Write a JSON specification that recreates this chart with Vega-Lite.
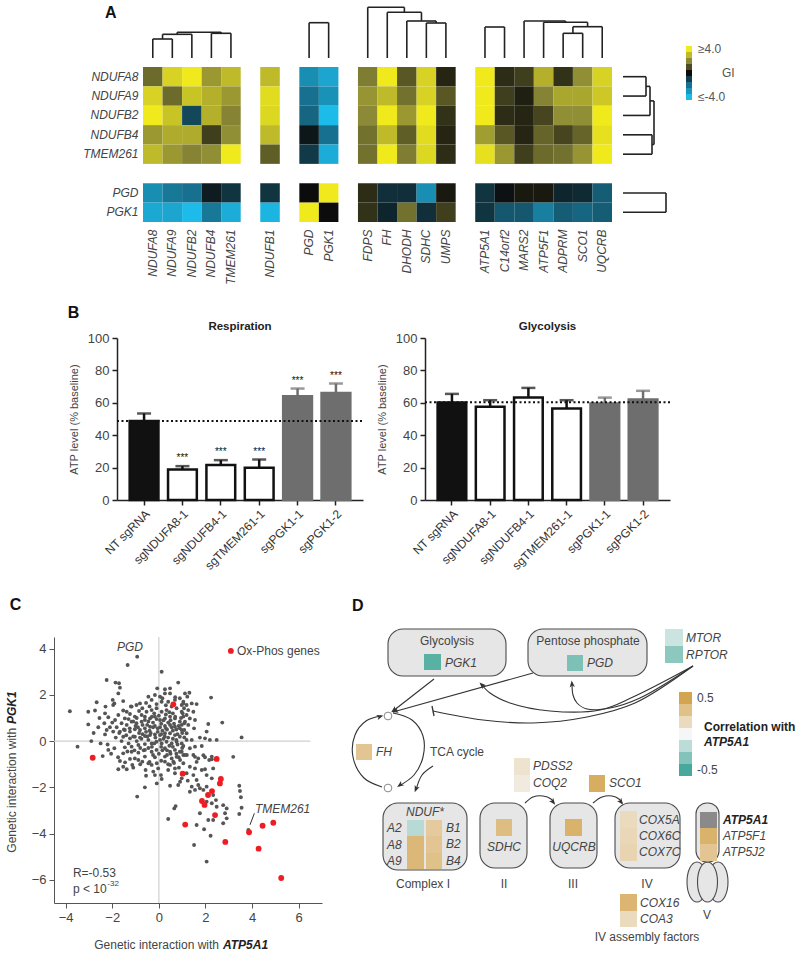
{
"$schema": "https://vega.github.io/schema/vega-lite/v6.json",
"width": 800, "height": 953, "autosize": "none", "padding": 0, "background": "#ffffff",
"config": {
  "view": {"stroke": null},
  "font": "Liberation Sans",
  "axis": {"grid": false, "labelFont": "Liberation Sans", "titleFont": "Liberation Sans", "labelColor": "#444444", "titleColor": "#444444", "titleFontWeight": "normal"},
  "text": {"font": "Liberation Sans", "fontSize": 12, "color": "#444444"}
},
"datasets": {
  "letters": [{"p": "B"}],
  "a_text": [{"label": "A", "x": -1.94, "h": 45}],
  "gi_wide": [
    {"r":"NDUFA8","NDUFA8":1.5,"NDUFA9":3.5,"NDUFB2":4,"NDUFB4":2.3,"TMEM261":3,"NDUFB1":3,"PGD":-2.8,"PGK1":-3.4,"FDPS":1.8,"FH":4,"DHODH":1.2,"SDHC":3.5,"UMPS":0.4,"ATP5A1":4,"C14orf2":0.5,"MARS2":0.8,"ATP5F1":2.8,"ADPRM":0.6,"SCO1":2.1,"UQCRB":3.5},
    {"r":"NDUFA9","NDUFA8":3.5,"NDUFA9":1.5,"NDUFB2":3.2,"NDUFB4":2.8,"TMEM261":2.3,"NDUFB1":3.7,"PGD":-2.0,"PGK1":-2.9,"FDPS":2.2,"FH":3.0,"DHODH":1.6,"SDHC":3.5,"UMPS":1.2,"ATP5A1":4,"C14orf2":0.8,"MARS2":0.3,"ATP5F1":1.9,"ADPRM":2.6,"SCO1":2.6,"UQCRB":3.3},
    {"r":"NDUFB2","NDUFA8":4,"NDUFA9":3.2,"NDUFB2":-1.2,"NDUFB4":2.8,"TMEM261":1.9,"NDUFB1":3.6,"PGD":-1.8,"PGK1":-4,"FDPS":2.0,"FH":4,"DHODH":2.3,"SDHC":4,"UMPS":0.6,"ATP5A1":4,"C14orf2":0.5,"MARS2":0.4,"ATP5F1":0.9,"ADPRM":2.1,"SCO1":2.1,"UQCRB":4},
    {"r":"NDUFB4","NDUFA8":2.3,"NDUFA9":2.7,"NDUFB2":2.7,"NDUFB4":0.8,"TMEM261":2.1,"NDUFB1":3.0,"PGD":-0.2,"PGK1":-2.0,"FDPS":1.6,"FH":3.0,"DHODH":1.3,"SDHC":3.7,"UMPS":0.4,"ATP5A1":2.4,"C14orf2":1.2,"MARS2":0.4,"ATP5F1":1.4,"ADPRM":0.9,"SCO1":1.4,"UQCRB":3.8},
    {"r":"TMEM261","NDUFA8":3.0,"NDUFA9":2.3,"NDUFB2":1.9,"NDUFB4":2.1,"TMEM261":4,"NDUFB1":1.3,"PGD":-0.9,"PGK1":-3.6,"FDPS":1.6,"FH":4,"DHODH":1.8,"SDHC":3.6,"UMPS":0.5,"ATP5A1":3.8,"C14orf2":2.3,"MARS2":0.8,"ATP5F1":1.5,"ADPRM":1.6,"SCO1":2.2,"UQCRB":4},
    {"r":"PGD","NDUFA8":-2.8,"NDUFA9":-2.2,"NDUFB2":-2.0,"NDUFB4":-0.3,"TMEM261":-0.8,"NDUFB1":-0.8,"PGD":0,"PGK1":4,"FDPS":0.5,"FH":-0.7,"DHODH":-0.7,"SDHC":-2.8,"UMPS":0.2,"ATP5A1":-0.8,"C14orf2":-0.1,"MARS2":0.2,"ATP5F1":0.2,"ADPRM":-0.5,"SCO1":-0.6,"UQCRB":-1.6},
    {"r":"PGK1","NDUFA8":-3.5,"NDUFA9":-3.4,"NDUFB2":-4,"NDUFB4":-2.2,"TMEM261":-3.6,"NDUFB1":-3.8,"PGD":4,"PGK1":0,"FDPS":0.6,"FH":-0.5,"DHODH":1.6,"SDHC":-0.7,"UMPS":0.8,"ATP5A1":-0.8,"C14orf2":-1.5,"MARS2":-1.5,"ATP5F1":-2.4,"ADPRM":-1.6,"SCO1":-1.8,"UQCRB":-1.6}
  ],
  "dendro_top": [
    {"x":0.5,"x2":0.5,"h":0,"h2":19},{"x":1.5,"x2":1.5,"h":0,"h2":19},{"x":0.5,"x2":1.5,"h":19,"h2":19},
    {"x":1.0,"x2":1.0,"h":19,"h2":23.7},{"x":2.5,"x2":2.5,"h":0,"h2":23.7},{"x":1.0,"x2":2.5,"h":23.7,"h2":23.7},
    {"x":3.5,"x2":3.5,"h":0,"h2":24.7},{"x":4.5,"x2":4.5,"h":0,"h2":24.7},{"x":3.5,"x2":4.5,"h":24.7,"h2":24.7},
    {"x":1.75,"x2":1.75,"h":23.7,"h2":25.7},{"x":4.0,"x2":4.0,"h":24.7,"h2":25.7},{"x":1.75,"x2":4.0,"h":25.7,"h2":25.7},
    {"x":8.5,"x2":8.5,"h":0,"h2":35.3},{"x":9.5,"x2":9.5,"h":0,"h2":35.3},{"x":8.5,"x2":9.5,"h":35.3,"h2":35.3},
    {"x":14.5,"x2":14.5,"h":0,"h2":35},{"x":15.5,"x2":15.5,"h":0,"h2":35},{"x":14.5,"x2":15.5,"h":35,"h2":35},
    {"x":13.5,"x2":13.5,"h":0,"h2":37},{"x":15.0,"x2":15.0,"h":35,"h2":37},{"x":13.5,"x2":15.0,"h":37,"h2":37},
    {"x":12.5,"x2":12.5,"h":0,"h2":45.7},{"x":14.25,"x2":14.25,"h":37,"h2":45.7},{"x":12.5,"x2":14.25,"h":45.7,"h2":45.7},
    {"x":11.5,"x2":11.5,"h":0,"h2":50.7},{"x":13.375,"x2":13.375,"h":45.7,"h2":50.7},{"x":11.5,"x2":13.375,"h":50.7,"h2":50.7},
    {"x":17.5,"x2":17.5,"h":0,"h2":31},{"x":18.5,"x2":18.5,"h":0,"h2":31},{"x":17.5,"x2":18.5,"h":31,"h2":31},
    {"x":21.5,"x2":21.5,"h":0,"h2":24.7},{"x":22.5,"x2":22.5,"h":0,"h2":24.7},{"x":21.5,"x2":22.5,"h":24.7,"h2":24.7},
    {"x":23.5,"x2":23.5,"h":0,"h2":31.3},{"x":22.0,"x2":22.0,"h":24.7,"h2":31.3},{"x":22.0,"x2":23.5,"h":31.3,"h2":31.3},
    {"x":20.5,"x2":20.5,"h":0,"h2":35.7},{"x":22.75,"x2":22.75,"h":31.3,"h2":35.7},{"x":20.5,"x2":22.75,"h":35.7,"h2":35.7},
    {"x":19.5,"x2":19.5,"h":0,"h2":37},{"x":21.625,"x2":21.625,"h":35.7,"h2":37},{"x":19.5,"x2":21.625,"h":37,"h2":37}
  ],
  "dendro_right": [
    {"h":0,"h2":23,"r":0.5,"r2":0.5},{"h":0,"h2":23,"r":1.5,"r2":1.5},{"h":23,"h2":23,"r":0.5,"r2":1.5},
    {"h":23,"h2":27,"r":1.0,"r2":1.0},{"h":0,"h2":27,"r":2.5,"r2":2.5},{"h":27,"h2":27,"r":1.0,"r2":2.5},
    {"h":0,"h2":29,"r":3.5,"r2":3.5},{"h":0,"h2":29,"r":4.5,"r2":4.5},{"h":29,"h2":29,"r":3.5,"r2":4.5},
    {"h":27,"h2":31,"r":1.75,"r2":1.75},{"h":29,"h2":31,"r":4.0,"r2":4.0},{"h":31,"h2":31,"r":1.75,"r2":4.0},
    {"h":0,"h2":43,"r":6.5,"r2":6.5},{"h":0,"h2":43,"r":7.5,"r2":7.5},{"h":43,"h2":43,"r":6.5,"r2":7.5}
  ],
  "gi_legend": [{"gi":4},{"gi":3},{"gi":2},{"gi":1},{"gi":0},{"gi":-1},{"gi":-2},{"gi":-3},{"gi":-4}],
  "gi_legend_labels": [{"gi":4,"label":"≥4.0"},{"gi":0,"label":"GI"},{"gi":-4,"label":"≤-4.0"}],
  "resp": [
    {"sample":"NT sgRNA","kind":"ctrl","mean":48.8,"upper":53.4,"sig":""},
    {"sample":"sgNDUFA8-1","kind":"kd","mean":18.9,"upper":20.9,"sig":"***"},
    {"sample":"sgNDUFB4-1","kind":"kd","mean":21.6,"upper":24.6,"sig":"***"},
    {"sample":"sgTMEM261-1","kind":"kd","mean":19.9,"upper":25,"sig":"***"},
    {"sample":"sgPGK1-1","kind":"pgk","mean":64.1,"upper":68.8,"sig":"***"},
    {"sample":"sgPGK1-2","kind":"pgk","mean":66.1,"upper":71.9,"sig":"***"}
  ],
  "glyc": [
    {"sample":"NT sgRNA","kind":"ctrl","mean":60.2,"upper":65.5},
    {"sample":"sgNDUFA8-1","kind":"kd","mean":57.5,"upper":61.6},
    {"sample":"sgNDUFB4-1","kind":"kd","mean":63.2,"upper":69.2},
    {"sample":"sgTMEM261-1","kind":"kd","mean":56.5,"upper":61.6},
    {"sample":"sgPGK1-1","kind":"pgk","mean":59.5,"upper":63.2},
    {"sample":"sgPGK1-2","kind":"pgk","mean":62,"upper":67.4}
  ],
  "bar_titles": [{"panel":"Respiration","level":48.8},{"panel":"Glycolysis","level":60.4}],
  "c_zero": [{"x":0,"y":-7,"x2":0,"y2":4.5},{"x":-4.5,"y":0,"x2":6.5,"y2":0}],
  "c_leader": [{"x":3.91,"y":-3.62,"x2":4.1,"y2":-3.12}],
  "c_legdot": [{"x":3.09,"y":3.9}],
  "c_text": [
    {"label":"PGD","x":-1.24,"y":4.07,"s":"ic"},
    {"label":"TMEM261","x":4.12,"y":-2.94,"s":"il"},
    {"label":"Ox-Phos genes","x":3.35,"y":3.9,"s":"nl"},
    {"label":"R=-0.53","x":-3.69,"y":-5.7,"s":"nl"},
    {"label":"p < 10","x":-3.69,"y":-6.39,"s":"nl"},
    {"label":"-32","x":-2.21,"y":-6.18,"s":"sup"},
    {"label":"Genetic interaction with","x":2.58,"y":-8.82,"s":"nr"},
    {"label":"ATP5A1","x":2.75,"y":-8.82,"s":"bil"},
    {"label":"Genetic interaction with","x":-6.3,"y":0.57,"s":"vr"},
    {"label":"PGK1","x":-6.3,"y":0.74,"s":"vbil"},
    {"label":"C","x":-6.4,"y":5.88,"s":"letter"}
  ],
  "c_oxphos": [
    {"x":0.62,"y":1.59},{"x":-2.84,"y":-0.72},{"x":2.48,"y":-0.77},{"x":1.02,"y":-1.41},{"x":2.66,"y":-1.64},{"x":2.62,"y":-1.83},{"x":2.28,"y":-2.16},{"x":2.11,"y":-2.33},{"x":1.85,"y":-2.59},{"x":1.96,"y":-2.76},{"x":2.41,"y":-3.2},{"x":1.13,"y":-3.61},{"x":4.45,"y":-3.66},{"x":4.91,"y":-3.53},{"x":3.87,"y":-3.94},{"x":2.85,"y":-4.36},{"x":4.28,"y":-4.65},{"x":5.25,"y":-5.92}
  ],
  "c_other": [
    {"x":-0.93,"y":3.65},{"x":-1.34,"y":3.29},{"x":0.12,"y":3.0},{"x":-2.24,"y":2.64},{"x":-1.86,"y":2.53},{"x":-1.71,"y":2.5},{"x":0.83,"y":2.53},{"x":-1.67,"y":2.31},{"x":-0.07,"y":2.28},{"x":0.26,"y":2.24},{"x":0.48,"y":2.28},{"x":-1.74,"y":2.06},{"x":-2.67,"y":1.68},{"x":-1.98,"y":1.78},{"x":-1.91,"y":1.63},{"x":-1.53,"y":1.73},{"x":-1.96,"y":1.56},{"x":-3.82,"y":1.29},{"x":-2.74,"y":1.32},{"x":-2.29,"y":1.49},{"x":-2.31,"y":1.2},{"x":-1.53,"y":1.32},{"x":-1.38,"y":1.27},{"x":-1.17,"y":1.49},{"x":-0.96,"y":1.56},{"x":-0.81,"y":1.63},{"x":-0.71,"y":1.42},{"x":-0.45,"y":1.92},{"x":-0.31,"y":1.78},{"x":-0.17,"y":1.99},{"x":0.05,"y":1.92},{"x":0.26,"y":2.06},{"x":0.48,"y":2.06},{"x":0.12,"y":1.7},{"x":0.4,"y":1.7},{"x":0.69,"y":1.78},{"x":0.9,"y":1.85},{"x":1.05,"y":1.63},
    {"x":-3.03,"y":0.72},{"x":-2.34,"y":0.77},{"x":-2.17,"y":1.03},{"x":-1.88,"y":0.91},{"x":-1.74,"y":1.13},{"x":-1.46,"y":0.98},{"x":-1.24,"y":1.17},{"x":-1.03,"y":1.06},{"x":-0.74,"y":1.13},{"x":-0.53,"y":1.27},{"x":-0.31,"y":1.34},{"x":-0.1,"y":1.42},{"x":0.12,"y":1.27},{"x":0.33,"y":1.34},{"x":0.55,"y":1.49},{"x":0.76,"y":1.42},{"x":0.98,"y":1.27},{"x":1.05,"y":1.06},
    {"x":-2.31,"y":0.29},{"x":-2.1,"y":0.6},{"x":-1.81,"y":0.6},{"x":-1.6,"y":0.77},{"x":-1.38,"y":0.7},{"x":-1.17,"y":0.84},{"x":-0.96,"y":0.77},{"x":-0.74,"y":0.84},{"x":-0.6,"y":0.91},{"x":-0.38,"y":0.98},{"x":-0.17,"y":1.06},{"x":0.05,"y":0.91},{"x":0.26,"y":0.98},{"x":0.48,"y":1.06},{"x":0.69,"y":0.98},{"x":0.9,"y":0.84},{"x":1.09,"y":0.77},
    {"x":-2.24,"y":0.48},{"x":-1.96,"y":0.41},{"x":-1.67,"y":0.41},{"x":-1.46,"y":0.48},{"x":-1.24,"y":0.41},{"x":-1.03,"y":0.51},{"x":-0.81,"y":0.48},{"x":-0.6,"y":0.55},{"x":-0.38,"y":0.62},{"x":-0.17,"y":0.65},{"x":0.05,"y":0.6},{"x":0.26,"y":0.65},{"x":0.48,"y":0.7},{"x":0.69,"y":0.62},{"x":0.9,"y":0.55},{"x":1.09,"y":0.48},
    {"x":-1.53,"y":0.19},{"x":-1.24,"y":0.12},{"x":-1.03,"y":0.19},{"x":-0.81,"y":0.15},{"x":-0.6,"y":0.22},{"x":-0.38,"y":0.26},{"x":-0.17,"y":0.29},{"x":0.05,"y":0.26},{"x":0.26,"y":0.34},{"x":0.48,"y":0.34},{"x":0.69,"y":0.26},{"x":0.9,"y":0.19},{"x":1.09,"y":0.16},
    {"x":-3.49,"y":-0.24},{"x":-2.17,"y":-0.38},{"x":-1.91,"y":-0.31},{"x":-1.46,"y":-0.27},{"x":-1.17,"y":-0.24},{"x":-0.88,"y":-0.17},{"x":-0.6,"y":-0.13},{"x":-0.31,"y":-0.1},{"x":-0.1,"y":-0.03},{"x":0.12,"y":-0.1},{"x":0.33,"y":-0.03},{"x":0.55,"y":-0.1},{"x":0.76,"y":-0.03},{"x":0.98,"y":-0.1},
    {"x":-1.53,"y":-0.53},{"x":-1.17,"y":-0.46},{"x":-0.88,"y":-0.5},{"x":-0.6,"y":-0.38},{"x":-0.31,"y":-0.46},{"x":-0.1,"y":-0.38},{"x":0.26,"y":-0.31},{"x":0.48,"y":-0.46},{"x":0.69,"y":-0.38},{"x":0.9,"y":-0.46},{"x":1.05,"y":-0.6},
    {"x":-1.03,"y":-0.75},{"x":-0.6,"y":-0.67},{"x":-0.17,"y":-0.7},{"x":0.26,"y":-0.67},{"x":0.55,"y":-0.75},
    {"x":-0.5,"y":0.7},{"x":-0.25,"y":0.8},{"x":0.1,"y":0.75},{"x":0.35,"y":0.5},{"x":0.6,"y":0.45},{"x":-0.7,"y":0.3},{"x":-0.45,"y":0.05},{"x":-0.05,"y":0.4},{"x":0.2,"y":0.1},{"x":0.45,"y":-0.2},{"x":0.8,"y":0.3},{"x":-0.9,"y":0.6},{"x":-1.1,"y":0.2},{"x":-0.3,"y":-0.25},{"x":0.0,"y":-0.55},{"x":0.35,"y":-0.6},{"x":0.65,"y":0.75},{"x":0.95,"y":1.0},{"x":-0.2,"y":1.2},{"x":0.3,"y":1.15},{"x":-0.6,"y":1.05},{"x":-0.85,"y":1.3},{"x":0.6,"y":1.2},{"x":-0.4,"y":0.45},{"x":0.15,"y":0.45},{"x":0.5,"y":0.9},{"x":-0.1,"y":0.95},{"x":-0.65,"y":-0.4},{"x":-1.3,"y":-0.1},{"x":-1.5,"y":0.5},{"x":-1.3,"y":0.95},{"x":0.75,"y":0.05},{"x":1.0,"y":-0.3},{"x":0.85,"y":-0.7},{"x":0.1,"y":-0.85},{"x":-0.4,"y":-0.9},{"x":-0.8,"y":-1.0},{"x":0.4,"y":-1.0},{"x":0.65,"y":-0.95},{"x":1.2,"y":-0.6},{"x":-1.7,"y":0.35},{"x":-2.0,"y":0.8},{"x":-1.2,"y":1.5},{"x":-0.55,"y":1.65},{"x":0.15,"y":1.85},{"x":0.7,"y":1.9},
    {"x":-0.35,"y":0.35},{"x":-0.15,"y":0.15},{"x":0.05,"y":0.05},{"x":0.25,"y":0.2},{"x":0.4,"y":0.15},{"x":0.6,"y":0.1},{"x":-0.55,"y":0.4},{"x":-0.85,"y":0.35},{"x":-1.0,"y":0.65},{"x":-1.25,"y":0.55},{"x":-0.7,"y":0.7},{"x":-0.45,"y":0.85},{"x":-0.3,"y":1.05},{"x":0.0,"y":1.1},{"x":0.2,"y":0.9},{"x":0.4,"y":0.8},{"x":0.55,"y":0.6},{"x":0.75,"y":0.5},{"x":0.85,"y":0.65},{"x":1.0,"y":0.35},{"x":0.3,"y":0.55},{"x":0.1,"y":0.3},{"x":-0.05,"y":0.55},{"x":-0.25,"y":0.6},{"x":-0.5,"y":0.2},{"x":-0.75,"y":0.1},{"x":-0.95,"y":0.0},{"x":-0.2,"y":-0.1},{"x":0.1,"y":-0.25},{"x":0.35,"y":-0.4},{"x":0.6,"y":-0.25},{"x":0.8,"y":-0.15},{"x":-0.45,"y":-0.3},{"x":-0.8,"y":-0.3},{"x":-1.05,"y":-0.4},{"x":-0.25,"y":-0.6},{"x":0.15,"y":-0.4},{"x":0.5,"y":-0.55},{"x":0.75,"y":-0.55},{"x":-1.4,"y":0.25},{"x":-1.6,"y":0.0},{"x":-1.85,"y":0.15},{"x":-1.35,"y":-0.45},{"x":0.45,"y":1.25},{"x":0.7,"y":1.05},{"x":-0.1,"y":1.6},{"x":0.3,"y":1.55},{"x":-0.4,"y":1.5},{"x":-0.95,"y":1.0},{"x":-1.1,"y":0.85},{"x":-2.6,"y":0.6},{"x":-2.9,"y":0.0},{"x":-2.2,"y":-0.15},
    {"x":-3.03,"y":1.27},{"x":-2.55,"y":1.0},{"x":-2.8,"y":0.35},{"x":-2.5,"y":-0.1},{"x":-2.05,"y":-0.55},{"x":-1.75,"y":-0.7},
    {"x":-2.41,"y":-0.65},{"x":-1.74,"y":-1.22},{"x":-1.53,"y":-1.11},{"x":-1.38,"y":-1.22},{"x":-1.1,"y":-1.15},{"x":-1.14,"y":-1.03},{"x":-1.67,"y":-0.86},{"x":-1.45,"y":-0.92},{"x":-1.24,"y":-0.77},{"x":-0.88,"y":-0.82},{"x":-0.71,"y":-0.89},{"x":-0.45,"y":-0.96},{"x":-0.57,"y":-1.25},{"x":-0.55,"y":-1.5},{"x":-0.24,"y":-1.32},{"x":-0.17,"y":-1.47},{"x":-0.31,"y":-1.03},{"x":-0.09,"y":-0.96},{"x":-0.03,"y":-1.18},{"x":0.09,"y":-1.47},{"x":0.12,"y":-1.64},{"x":-0.09,"y":-1.83},{"x":-0.6,"y":-2.0},{"x":-0.93,"y":-2.4},{"x":0.48,"y":-1.93},{"x":0.66,"y":-2.91},{"x":0.72,"y":-2.81},{"x":0.4,"y":-3.37},{"x":0.26,"y":-0.89},{"x":0.48,"y":-1.03},{"x":0.62,"y":-0.89},{"x":0.4,"y":-1.25},{"x":0.69,"y":-1.18},{"x":0.86,"y":-1.15},{"x":0.98,"y":-1.61},{"x":0.91,"y":-1.76},{"x":0.83,"y":-1.9},{"x":0.69,"y":-1.39},{"x":1.05,"y":-0.96},{"x":0.91,"y":-0.82},{"x":0.76,"y":-0.68},
    {"x":1.12,"y":2.06},{"x":1.31,"y":2.09},{"x":1.22,"y":1.92},{"x":1.05,"y":1.7},{"x":0.98,"y":1.56},{"x":1.19,"y":1.56},{"x":1.41,"y":1.63},{"x":1.62,"y":1.6},{"x":1.08,"y":1.42},{"x":1.26,"y":1.34},{"x":1.48,"y":1.27},{"x":1.02,"y":1.2},{"x":1.19,"y":1.13},{"x":1.33,"y":0.98},{"x":1.55,"y":0.91},{"x":1.12,"y":0.84},{"x":0.98,"y":0.7},{"x":1.26,"y":0.7},{"x":1.51,"y":0.55},{"x":0.98,"y":0.48},{"x":1.19,"y":0.34},{"x":1.76,"y":0.15},{"x":1.98,"y":0.12},{"x":2.19,"y":0.05},{"x":2.48,"y":0.05},{"x":1.41,"y":0.05},{"x":1.19,"y":0.05},{"x":2.05,"y":0.41},{"x":2.12,"y":0.74},{"x":2.72,"y":0.8},{"x":3.55,"y":0.16},{"x":1.05,"y":-0.21},{"x":1.33,"y":-0.31},{"x":1.55,"y":-0.24},{"x":1.84,"y":-0.21},{"x":0.98,"y":-0.46},{"x":1.12,"y":-0.6},{"x":1.48,"y":-0.6},{"x":1.69,"y":-0.75},{"x":1.98,"y":-0.7},{"x":2.27,"y":-0.67},{"x":2.24,"y":1.88},
    {"x":1.55,"y":-0.68},{"x":1.91,"y":-0.61},{"x":2.27,"y":-0.79},{"x":2.16,"y":-0.82},{"x":3.19,"y":-0.68},{"x":1.62,"y":-0.9},{"x":1.33,"y":-1.11},{"x":1.55,"y":-1.18},{"x":1.19,"y":-1.39},{"x":1.84,"y":-1.25},{"x":1.98,"y":-1.22},{"x":2.33,"y":-1.18},{"x":2.05,"y":-1.47},{"x":2.27,"y":-1.61},{"x":1.48,"y":-1.47},{"x":1.62,"y":-1.68},{"x":1.24,"y":-1.71},{"x":1.41,"y":-1.97},{"x":1.69,"y":-1.9},{"x":1.76,"y":-2.04},{"x":1.33,"y":-2.19},{"x":1.55,"y":-2.11},{"x":1.91,"y":-2.11},{"x":2.05,"y":-1.97},{"x":2.33,"y":-2.33},{"x":2.45,"y":-2.55},{"x":2.05,"y":-2.62},{"x":2.27,"y":-2.69},{"x":2.48,"y":-2.84},{"x":2.76,"y":-2.77},{"x":2.91,"y":-2.91},{"x":3.45,"y":-1.93},{"x":3.52,"y":-2.43},{"x":3.55,"y":-2.88},{"x":3.45,"y":-3.15},{"x":3.48,"y":-2.16},{"x":1.76,"y":-3.12},{"x":2.12,"y":-3.41},{"x":2.33,"y":-3.41},{"x":2.76,"y":-3.55},{"x":2.91,"y":-3.34},{"x":2.84,"y":-3.12},{"x":1.62,"y":-3.63},{"x":1.94,"y":-3.81},{"x":2.22,"y":-4.09},{"x":1.51,"y":-4.49},{"x":2.05,"y":-5.21},{"x":3.84,"y":-3.84}
  ],
  "d_boxes": [
    {"name":"Glycolysis","x":48,"y":39,"x2":166,"y2":86},
    {"name":"Pentose phosphate","x":188,"y":39,"x2":307,"y2":86},
    {"name":"I","x":43,"y":213,"x2":127,"y2":280},
    {"name":"II","x":140,"y":213,"x2":187,"y2":278},
    {"name":"III","x":210,"y":213,"x2":257,"y2":278},
    {"name":"IV","x":275,"y":213,"x2":340,"y2":278}
  ],
  "d_stalk": [{"name":"V","x":356,"y":213,"x2":379,"y2":272}],
  "d_ellipses": [{"part":"left","x":357,"y":292},{"part":"right","x":378,"y":292},{"part":"mid","x":367.5,"y":292}],
  "d_genes": [
    {"gene":"PGK1","corr":-0.45,"x":84,"y":64,"x2":101,"y2":80},
    {"gene":"PGD","corr":-0.35,"x":227,"y":65,"x2":243,"y2":81},
    {"gene":"MTOR","corr":-0.12,"x":325,"y":39,"x2":343,"y2":56},
    {"gene":"RPTOR","corr":-0.3,"x":325,"y":56,"x2":343,"y2":73},
    {"gene":"FH","corr":0.3,"x":16,"y":154,"x2":32,"y2":170},
    {"gene":"PDSS2","corr":0.12,"x":174,"y":168,"x2":190,"y2":185},
    {"gene":"COQ2","corr":0.07,"x":174,"y":185,"x2":190,"y2":202},
    {"gene":"SCO1","corr":0.45,"x":249,"y":185,"x2":265,"y2":202},
    {"gene":"NDUFA2","corr":-0.18,"x":67,"y":230,"x2":84,"y2":246},
    {"gene":"NDUFA8","corr":0.38,"x":67,"y":246,"x2":84,"y2":263},
    {"gene":"NDUFA9","corr":0.38,"x":67,"y":263,"x2":84,"y2":279},
    {"gene":"NDUFB1","corr":0.27,"x":86,"y":230,"x2":102,"y2":246},
    {"gene":"NDUFB2","corr":0.3,"x":86,"y":246,"x2":102,"y2":263},
    {"gene":"NDUFB4","corr":0.33,"x":86,"y":263,"x2":102,"y2":279},
    {"gene":"SDHC","corr":0.35,"x":156,"y":229,"x2":172,"y2":246},
    {"gene":"UQCRB","corr":0.42,"x":225,"y":229,"x2":242,"y2":246},
    {"gene":"COX5A","corr":0.17,"x":280,"y":221,"x2":297,"y2":238},
    {"gene":"COX6C","corr":0.19,"x":280,"y":238,"x2":297,"y2":254},
    {"gene":"COX7C","corr":0.21,"x":280,"y":254,"x2":297,"y2":271},
    {"gene":"ATP5F1","corr":0.42,"x":360,"y":238,"x2":377,"y2":254},
    {"gene":"ATP5J2","corr":0.3,"x":360,"y":254,"x2":377,"y2":271},
    {"gene":"COX16","corr":0.4,"x":280,"y":304,"x2":297,"y2":321},
    {"gene":"COA3","corr":0.17,"x":280,"y":321,"x2":297,"y2":337}
  ],
  "d_self": [{"gene":"ATP5A1","x":360,"y":222,"x2":377,"y2":238}],
  "d_legend": [
    {"corr":0.5,"x":339,"x2":352,"y":102,"y2":114},
    {"corr":0.33,"x":339,"x2":352,"y":114,"y2":126},
    {"corr":0.17,"x":339,"x2":352,"y":126,"y2":138},
    {"corr":0,"x":339,"x2":352,"y":138,"y2":150},
    {"corr":-0.17,"x":339,"x2":352,"y":150,"y2":162},
    {"corr":-0.33,"x":339,"x2":352,"y":162,"y2":174},
    {"corr":-0.5,"x":339,"x2":352,"y":174,"y2":186}
  ],
  "d_lines": [
    {"id":"g","o":0,"x":94,"y":89},{"id":"g","o":1,"x":53,"y":121},
    {"id":"p","o":0,"x":193,"y":83},{"id":"p","o":1,"x":53,"y":122},
    {"id":"m1","o":0,"x":353,"y":76},{"id":"m1","o":1,"x":293,"y":107},{"id":"m1","o":2,"x":260,"y":120},{"id":"m1","o":3,"x":210,"y":121},{"id":"m1","o":4,"x":170,"y":113},{"id":"m1","o":5,"x":150,"y":103},{"id":"m1","o":6,"x":141,"y":94},
    {"id":"m2","o":0,"x":353,"y":76},{"id":"m2","o":1,"x":300,"y":108},{"id":"m2","o":2,"x":270,"y":118},{"id":"m2","o":3,"x":247,"y":119},{"id":"m2","o":4,"x":237,"y":113},{"id":"m2","o":5,"x":233,"y":105},{"id":"m2","o":6,"x":232,"y":93},
    {"id":"m3","o":0,"x":353,"y":76},{"id":"m3","o":1,"x":295,"y":113},{"id":"m3","o":2,"x":247,"y":127},{"id":"m3","o":3,"x":193,"y":133},{"id":"m3","o":4,"x":143,"y":130},{"id":"m3","o":5,"x":93,"y":121},
    {"id":"tl","o":0,"x":42,"y":197},{"id":"tl","o":1,"x":24,"y":188},{"id":"tl","o":2,"x":13,"y":167},{"id":"tl","o":3,"x":15,"y":145},{"id":"tl","o":4,"x":26,"y":131},{"id":"tl","o":5,"x":41,"y":126},
    {"id":"tr","o":0,"x":53,"y":123},{"id":"tr","o":1,"x":72,"y":130},{"id":"tr","o":2,"x":83,"y":146},{"id":"tr","o":3,"x":83,"y":167},{"id":"tr","o":4,"x":74,"y":185},{"id":"tr","o":5,"x":59,"y":196},
    {"id":"nb","o":0,"x":93,"y":176},{"id":"nb","o":1,"x":82,"y":185},{"id":"nb","o":2,"x":76,"y":200},
    {"id":"c23","o":0,"x":185,"y":213},{"id":"c23","o":1,"x":193,"y":207},{"id":"c23","o":2,"x":203,"y":206},{"id":"c23","o":3,"x":211,"y":209},{"id":"c23","o":4,"x":214,"y":213},
    {"id":"c34","o":0,"x":253,"y":213},{"id":"c34","o":1,"x":262,"y":207},{"id":"c34","o":2,"x":272,"y":206},{"id":"c34","o":3,"x":279,"y":209},{"id":"c34","o":4,"x":282,"y":213}
  ],
  "d_tbar": [{"x":92,"y":116,"x2":94,"y2":126}],
  "d_arrows": [
    {"x":54,"y":120,"a":232},{"x":55,"y":121,"a":254},{"x":142,"y":95,"a":315},{"x":232,"y":94,"a":355},
    {"x":40,"y":126.5,"a":72},{"x":60,"y":195,"a":234},{"x":76,"y":199,"a":202},{"x":213,"y":212,"a":143},{"x":281,"y":212,"a":143}
  ],
  "d_circles": [{"x":48,"y":126},{"x":48,"y":198}],
  "d_text": [
    {"label":"Glycolysis","x":107,"y":51,"s":"nc"},
    {"label":"Pentose phosphate","x":248,"y":51,"s":"nc"},
    {"label":"PGK1","x":105,"y":73,"s":"il"},
    {"label":"PGD","x":247,"y":73,"s":"il"},
    {"label":"MTOR","x":346,"y":48,"s":"il"},
    {"label":"RPTOR","x":346,"y":65,"s":"il"},
    {"label":"0.5","x":357,"y":108,"s":"nl"},
    {"label":"Correlation with","x":364,"y":137,"s":"bl"},
    {"label":"ATP5A1","x":364,"y":152,"s":"bil"},
    {"label":"-0.5","x":357,"y":180,"s":"nl"},
    {"label":"FH","x":36,"y":162,"s":"il"},
    {"label":"TCA cycle","x":90,"y":162,"s":"nl"},
    {"label":"PDSS2","x":193,"y":176,"s":"il"},
    {"label":"COQ2","x":193,"y":193,"s":"il"},
    {"label":"SCO1","x":269,"y":193,"s":"il"},
    {"label":"NDUF*","x":85,"y":222,"s":"ic"},
    {"label":"A2","x":47,"y":238,"s":"il"},
    {"label":"A8","x":47,"y":255,"s":"il"},
    {"label":"A9","x":47,"y":271,"s":"il"},
    {"label":"B1","x":106,"y":238,"s":"il"},
    {"label":"B2","x":106,"y":254,"s":"il"},
    {"label":"B4","x":106,"y":271,"s":"il"},
    {"label":"SDHC","x":164,"y":257,"s":"ic"},
    {"label":"UQCRB","x":234,"y":257,"s":"ic"},
    {"label":"COX5A","x":299,"y":230,"s":"il"},
    {"label":"COX6C","x":299,"y":246,"s":"il"},
    {"label":"COX7C","x":299,"y":262,"s":"il"},
    {"label":"ATP5A1","x":383,"y":230,"s":"bil"},
    {"label":"ATP5F1","x":383,"y":246,"s":"il"},
    {"label":"ATP5J2","x":383,"y":262,"s":"il"},
    {"label":"Complex I","x":83,"y":294,"s":"nc"},
    {"label":"II","x":164,"y":294,"s":"nc"},
    {"label":"III","x":233,"y":294,"s":"nc"},
    {"label":"IV","x":307,"y":294,"s":"nc"},
    {"label":"V","x":367,"y":325,"s":"nc"},
    {"label":"COX16","x":300,"y":313,"s":"il"},
    {"label":"COA3","x":300,"y":329,"s":"il"},
    {"label":"IV assembly factors","x":307,"y":347,"s":"nc"},
    {"label":"D","x":12,"y":16,"s":"letter"}
  ]
},
"layer": [
  {
    "layer": [
      {
        "data": {"name": "gi_wide"},
        "transform": [{"fold": ["NDUFA8","NDUFA9","NDUFB2","NDUFB4","TMEM261","NDUFB1","PGD","PGK1","FDPS","FH","DHODH","SDHC","UMPS","ATP5A1","C14orf2","MARS2","ATP5F1","ADPRM","SCO1","UQCRB"], "as": ["c", "gi"]}],
        "mark": {"type": "rect"},
        "encoding": {
          "x": {"field": "c", "type": "nominal", "scale": {"domain": ["NDUFA8","NDUFA9","NDUFB2","NDUFB4","TMEM261","gap1","NDUFB1","gap2","PGD","PGK1","gap3","FDPS","FH","DHODH","SDHC","UMPS","gap4","ATP5A1","C14orf2","MARS2","ATP5F1","ADPRM","SCO1","UQCRB"], "range": [143, 612], "paddingInner": 0, "paddingOuter": 0},
            "axis": {"orient": "bottom", "offset": -728, "title": null, "ticks": false, "domain": false, "labelAngle": -90, "labelAlign": "right", "labelBaseline": "middle", "labelFontStyle": "italic", "labelFontSize": 12, "labelPadding": 4, "labelColor": "#444444", "labelExpr": "indexof(datum.value, 'gap') == 0 ? '' : datum.value"}},
          "y": {"field": "r", "type": "nominal", "scale": {"domain": ["NDUFA8","NDUFA9","NDUFB2","NDUFB4","TMEM261","gapr","PGD","PGK1"], "range": [67, 222], "paddingInner": 0, "paddingOuter": 0},
            "axis": {"orient": "left", "offset": -141, "title": null, "ticks": false, "domain": false, "labelFontStyle": "italic", "labelFontSize": 12, "labelPadding": 3, "labelColor": "#444444", "labelExpr": "indexof(datum.value, 'gap') == 0 ? '' : datum.value"}},
          "color": {"field": "gi", "type": "quantitative", "scale": {"domain": [-4, -2, 0, 2, 4], "range": ["#1cbbea", "#17708f", "#0c0c0c", "#8c8a36", "#f0ea1c"], "interpolate": "rgb", "clamp": true}, "legend": null}
        }
      },
      {
        "encoding": {
          "x": {"field": "x", "type": "quantitative", "scale": {"domain": [0, 24], "range": [143, 612], "nice": false, "zero": false}, "axis": null},
          "y": {"field": "h", "type": "quantitative", "scale": {"domain": [0, 58], "range": [58, 0], "nice": false, "zero": false}, "axis": null}
        },
        "layer": [
          {"data": {"name": "dendro_top"}, "mark": {"type": "rule", "color": "#222222", "strokeWidth": 1.6}, "encoding": {"x2": {"field": "x2"}, "y2": {"field": "h2"}}},
          {"data": {"name": "a_text"}, "mark": {"type": "text", "fontWeight": "bold", "fontSize": 16, "fill": "#111111", "align": "left"}, "encoding": {"text": {"field": "label"}}}
        ]
      },
      {
        "data": {"name": "dendro_right"},
        "mark": {"type": "rule", "color": "#222222", "strokeWidth": 1.6},
        "encoding": {
          "x": {"field": "h", "type": "quantitative", "scale": {"domain": [0, 50], "range": [623, 673], "nice": false, "zero": false}, "axis": null},
          "x2": {"field": "h2"},
          "y": {"field": "r", "type": "quantitative", "scale": {"domain": [0, 8], "range": [67, 222], "nice": false, "zero": false}, "axis": null},
          "y2": {"field": "r2"}
        }
      },
      {
        "layer": [
          {"data": {"name": "gi_legend"}, "mark": {"type": "rect"}, "encoding": {
            "y": {"field": "gi", "type": "ordinal", "scale": {"domain": [4, 3, 2, 1, 0, -1, -2, -3, -4], "range": [46, 100], "paddingInner": 0, "paddingOuter": 0}, "axis": null},
            "x": {"datum": 0, "type": "quantitative", "scale": {"domain": [0, 1], "range": [686, 692]}, "axis": null},
            "x2": {"datum": 1},
            "color": {"field": "gi", "type": "quantitative", "scale": {"domain": [-4, -2, 0, 2, 4], "range": ["#1cbbea", "#17708f", "#0c0c0c", "#8c8a36", "#f0ea1c"], "interpolate": "rgb", "clamp": true}, "legend": null}}},
          {"data": {"name": "gi_legend_labels"}, "transform": [{"filter": "datum.gi != 0"}], "mark": {"type": "text", "align": "left", "fontSize": 12, "fill": "#555555"}, "encoding": {
            "y": {"field": "gi", "type": "ordinal", "axis": null},
            "x": {"datum": 2, "type": "quantitative"}, "text": {"field": "label"}}},
          {"data": {"name": "gi_legend_labels"}, "transform": [{"filter": "datum.gi == 0"}], "mark": {"type": "text", "align": "left", "fontSize": 12, "fill": "#555555"}, "encoding": {
            "y": {"field": "gi", "type": "ordinal", "axis": null},
            "x": {"datum": 6, "type": "quantitative"}, "text": {"field": "label"}}}
        ]
      }
    ],
    "resolve": {"scale": {"x": "independent", "y": "independent"}, "axis": {"x": "independent", "y": "independent"}}
  },
  {
    "layer": [
      {
        "data": {"name": "resp"},
        "encoding": {
          "x": {"field": "sample", "type": "nominal", "sort": null, "scale": {"range": [117, 363], "paddingInner": 0.25, "paddingOuter": 0.33},
            "axis": {"orient": "bottom", "offset": -453, "title": null, "labelAngle": -45, "labelFontSize": 12, "labelColor": "#333333", "domainColor": "#222222", "domainWidth": 1.5, "tickColor": "#222222", "tickWidth": 1.5, "tickSize": 5, "labelPadding": 3}},
          "y": {"field": "mean", "type": "quantitative", "scale": {"domain": [0, 100], "range": [500, 338], "nice": false, "zero": false},
            "axis": {"orient": "left", "offset": -117, "values": [0, 20, 40, 60, 80, 100], "title": "ATP level (% baseline)", "titleFontSize": 11, "titlePadding": 8, "labelFontSize": 13, "domainColor": "#222222", "domainWidth": 1.5, "tickColor": "#222222", "tickWidth": 1.5, "tickSize": 5, "labelPadding": 3}}
        },
        "layer": [
          {"mark": {"type": "bar", "strokeWidth": 2.5}, "encoding": {
            "fill": {"field": "kind", "type": "nominal", "scale": {"domain": ["ctrl", "kd", "pgk"], "range": ["#111111", "#ffffff", "#6e6e6e"]}, "legend": null},
            "stroke": {"field": "kind", "type": "nominal", "scale": {"domain": ["ctrl", "kd", "pgk"], "range": ["#111111", "#111111", "#6e6e6e"]}, "legend": null}}},
          {"mark": {"type": "rule", "strokeWidth": 2.5}, "encoding": {"y2": {"field": "upper"},
            "color": {"field": "kind", "type": "nominal", "scale": {"domain": ["ctrl", "kd", "pgk"], "range": ["#111111", "#111111", "#6e6e6e"]}, "legend": null}}},
          {"mark": {"type": "tick", "thickness": 2.5, "size": 14}, "encoding": {"y": {"field": "upper", "type": "quantitative"},
            "color": {"field": "kind", "type": "nominal", "scale": {"domain": ["ctrl", "kd", "pgk"], "range": ["#111111", "#111111", "#6e6e6e"]}, "legend": null}}},
          {"mark": {"type": "text", "baseline": "bottom", "dy": -3, "fontSize": 10, "fill": "#111111"}, "encoding": {"y": {"field": "upper", "type": "quantitative"}, "text": {"field": "sig"}}}
        ]
      },
      {
        "layer": [
          {"data": {"name": "bar_titles"}, "transform": [{"filter": "datum.panel == 'Respiration'"}], "mark": {"type": "rule", "strokeDash": [2, 2.5], "strokeWidth": 2, "color": "#111111"}, "encoding": {
            "x": {"datum": 0, "type": "quantitative", "scale": {"domain": [0, 1], "range": [117, 363], "nice": false, "zero": false}, "axis": null},
            "x2": {"datum": 1},
            "y": {"field": "level", "type": "quantitative", "scale": {"domain": [0, 100], "range": [500, 338], "nice": false, "zero": false}, "axis": null}}},
          {"data": {"name": "bar_titles"}, "transform": [{"filter": "datum.panel == 'Respiration'"}], "mark": {"type": "text", "fontWeight": "bold", "fontSize": 11.5, "fill": "#222222"}, "encoding": {
            "x": {"datum": 0.5, "type": "quantitative"}, "y": {"datum": 107, "type": "quantitative"}, "text": {"field": "panel"}}},
          {"data": {"name": "letters"}, "transform": [{"filter": "datum.p == 'B'"}], "mark": {"type": "text", "fontWeight": "bold", "fontSize": 16, "fill": "#111111", "align": "left"}, "encoding": {
            "x": {"datum": -0.2, "type": "quantitative"}, "y": {"datum": 115.4, "type": "quantitative"}, "text": {"field": "p"}}}
        ]
      }
    ],
    "resolve": {"scale": {"x": "independent", "y": "independent"}, "axis": {"x": "independent", "y": "independent"}}
  },
  {
    "layer": [
      {
        "data": {"name": "glyc"},
        "encoding": {
          "x": {"field": "sample", "type": "nominal", "sort": null, "scale": {"range": [425, 670], "paddingInner": 0.25, "paddingOuter": 0.33},
            "axis": {"orient": "bottom", "offset": -453, "title": null, "labelAngle": -45, "labelFontSize": 12, "labelColor": "#333333", "domainColor": "#222222", "domainWidth": 1.5, "tickColor": "#222222", "tickWidth": 1.5, "tickSize": 5, "labelPadding": 3}},
          "y": {"field": "mean", "type": "quantitative", "scale": {"domain": [0, 100], "range": [500, 338], "nice": false, "zero": false},
            "axis": {"orient": "left", "offset": -425, "values": [0, 20, 40, 60, 80, 100], "title": "ATP level (% baseline)", "titleFontSize": 11, "titlePadding": 8, "labelFontSize": 13, "domainColor": "#222222", "domainWidth": 1.5, "tickColor": "#222222", "tickWidth": 1.5, "tickSize": 5, "labelPadding": 3}}
        },
        "layer": [
          {"mark": {"type": "bar", "strokeWidth": 2.5}, "encoding": {
            "fill": {"field": "kind", "type": "nominal", "scale": {"domain": ["ctrl", "kd", "pgk"], "range": ["#111111", "#ffffff", "#6e6e6e"]}, "legend": null},
            "stroke": {"field": "kind", "type": "nominal", "scale": {"domain": ["ctrl", "kd", "pgk"], "range": ["#111111", "#111111", "#6e6e6e"]}, "legend": null}}},
          {"mark": {"type": "rule", "strokeWidth": 2.5}, "encoding": {"y2": {"field": "upper"},
            "color": {"field": "kind", "type": "nominal", "scale": {"domain": ["ctrl", "kd", "pgk"], "range": ["#111111", "#111111", "#6e6e6e"]}, "legend": null}}},
          {"mark": {"type": "tick", "thickness": 2.5, "size": 14}, "encoding": {"y": {"field": "upper", "type": "quantitative"},
            "color": {"field": "kind", "type": "nominal", "scale": {"domain": ["ctrl", "kd", "pgk"], "range": ["#111111", "#111111", "#6e6e6e"]}, "legend": null}}}
        ]
      },
      {
        "layer": [
          {"data": {"name": "bar_titles"}, "transform": [{"filter": "datum.panel == 'Glycolysis'"}], "mark": {"type": "rule", "strokeDash": [2, 2.5], "strokeWidth": 2, "color": "#111111"}, "encoding": {
            "x": {"datum": 0, "type": "quantitative", "scale": {"domain": [0, 1], "range": [425, 670], "nice": false, "zero": false}, "axis": null},
            "x2": {"datum": 1},
            "y": {"field": "level", "type": "quantitative", "scale": {"domain": [0, 100], "range": [500, 338], "nice": false, "zero": false}, "axis": null}}},
          {"data": {"name": "bar_titles"}, "transform": [{"filter": "datum.panel == 'Glycolysis'"}], "mark": {"type": "text", "fontWeight": "bold", "fontSize": 11.5, "fill": "#222222"}, "encoding": {
            "x": {"datum": 0.5, "type": "quantitative"}, "y": {"datum": 107, "type": "quantitative"}, "text": {"field": "panel"}}}
        ]
      }
    ],
    "resolve": {"scale": {"x": "independent", "y": "independent"}, "axis": {"x": "independent", "y": "independent"}}
  },
  {
    "encoding": {
      "x": {"field": "x", "type": "quantitative", "scale": {"domain": [-4.5, 7], "range": [54, 322], "nice": false, "zero": false},
        "axis": {"orient": "bottom", "offset": -50, "values": [-4, -2, 0, 2, 4, 6], "title": null, "labelFontSize": 13, "domainColor": "#555555", "tickColor": "#555555", "tickSize": 5, "labelPadding": 3}},
      "y": {"field": "y", "type": "quantitative", "scale": {"domain": [-7, 4.5], "range": [903, 637], "nice": false, "zero": false},
        "axis": {"orient": "left", "offset": -54, "values": [-6, -4, -2, 0, 2, 4], "title": null, "labelFontSize": 13, "domainColor": "#555555", "tickColor": "#555555", "tickSize": 5, "labelPadding": 3}}
    },
    "layer": [
      {"data": {"name": "c_zero"}, "mark": {"type": "rule", "color": "#cfcfcf", "strokeWidth": 1.2}, "encoding": {"x2": {"field": "x2"}, "y2": {"field": "y2"}}},
      {"data": {"name": "c_other"}, "mark": {"type": "circle", "size": 15, "color": "#555555", "opacity": 1}, "encoding": {}},
      {"data": {"name": "c_oxphos"}, "mark": {"type": "circle", "size": 34, "color": "#ee1d23", "opacity": 1}, "encoding": {}},
      {"data": {"name": "c_legdot"}, "mark": {"type": "circle", "size": 34, "color": "#ee1d23", "opacity": 1}, "encoding": {}},
      {"data": {"name": "c_leader"}, "mark": {"type": "rule", "color": "#333333", "strokeWidth": 1}, "encoding": {"x2": {"field": "x2"}, "y2": {"field": "y2"}}},
      {"data": {"name": "c_text"}, "transform": [{"filter": "datum.s == 'ic'"}], "mark": {"type": "text", "fontStyle": "italic", "fontSize": 12, "align": "center"}, "encoding": {"text": {"field": "label"}}},
      {"data": {"name": "c_text"}, "transform": [{"filter": "datum.s == 'il'"}], "mark": {"type": "text", "fontStyle": "italic", "fontSize": 12, "align": "left"}, "encoding": {"text": {"field": "label"}}},
      {"data": {"name": "c_text"}, "transform": [{"filter": "datum.s == 'nl'"}], "mark": {"type": "text", "fontSize": 12, "align": "left"}, "encoding": {"text": {"field": "label"}}},
      {"data": {"name": "c_text"}, "transform": [{"filter": "datum.s == 'sup'"}], "mark": {"type": "text", "fontSize": 8, "align": "left"}, "encoding": {"text": {"field": "label"}}},
      {"data": {"name": "c_text"}, "transform": [{"filter": "datum.s == 'nr'"}], "mark": {"type": "text", "fontSize": 12, "align": "right"}, "encoding": {"text": {"field": "label"}}},
      {"data": {"name": "c_text"}, "transform": [{"filter": "datum.s == 'bil'"}], "mark": {"type": "text", "fontSize": 12, "fontWeight": "bold", "fontStyle": "italic", "align": "left", "fill": "#222222"}, "encoding": {"text": {"field": "label"}}},
      {"data": {"name": "c_text"}, "transform": [{"filter": "datum.s == 'vr'"}], "mark": {"type": "text", "fontSize": 12, "align": "right", "angle": 270}, "encoding": {"text": {"field": "label"}}},
      {"data": {"name": "c_text"}, "transform": [{"filter": "datum.s == 'vbil'"}], "mark": {"type": "text", "fontSize": 12, "fontWeight": "bold", "fontStyle": "italic", "align": "left", "angle": 270, "fill": "#222222"}, "encoding": {"text": {"field": "label"}}},
      {"data": {"name": "c_text"}, "transform": [{"filter": "datum.s == 'letter'"}], "mark": {"type": "text", "fontSize": 16, "fontWeight": "bold", "align": "left", "fill": "#111111"}, "encoding": {"text": {"field": "label"}}}
    ]
  },
  {
    "encoding": {
      "x": {"field": "x", "type": "quantitative", "scale": {"domain": [0, 460], "range": [340, 800], "nice": false, "zero": false}, "axis": null},
      "y": {"field": "y", "type": "quantitative", "scale": {"domain": [0, 363], "range": [590, 953], "nice": false, "zero": false}, "axis": null}
    },
    "layer": [
      {"data": {"name": "d_lines"}, "mark": {"type": "line", "interpolate": "catmull-rom", "color": "#333333", "strokeWidth": 1.1}, "encoding": {"detail": {"field": "id"}, "order": {"field": "o"}}},
      {"data": {"name": "d_tbar"}, "mark": {"type": "rule", "color": "#333333", "strokeWidth": 1.3}, "encoding": {"x2": {"field": "x2"}, "y2": {"field": "y2"}}},
      {"data": {"name": "d_arrows"}, "mark": {"type": "point", "shape": "M0,-1L0.75,0.9L0,0.45L-0.75,0.9Z", "filled": true, "color": "#333333", "size": 50, "opacity": 1}, "encoding": {"angle": {"field": "a", "type": "quantitative", "scale": null}}},
      {"data": {"name": "d_circles"}, "mark": {"type": "point", "shape": "circle", "filled": true, "fill": "#ffffff", "stroke": "#888888", "strokeWidth": 1, "size": 60, "opacity": 1}, "encoding": {}},
      {"data": {"name": "d_boxes"}, "mark": {"type": "rect", "cornerRadius": 15, "fill": "#e6e6e6", "stroke": "#4a4a4a", "strokeWidth": 1.1}, "encoding": {"x2": {"field": "x2"}, "y2": {"field": "y2"}}},
      {"data": {"name": "d_ellipses"}, "mark": {"type": "point", "shape": "M-0.5,0A0.5,1 0 1,0 0.5,0A0.5,1 0 1,0 -0.5,0Z", "filled": true, "fill": "#e6e6e6", "stroke": "#4a4a4a", "strokeWidth": 1.1, "size": 1600, "opacity": 1}, "encoding": {}},
      {"data": {"name": "d_stalk"}, "mark": {"type": "rect", "cornerRadius": 11, "fill": "#e6e6e6", "stroke": "#4a4a4a", "strokeWidth": 1.1}, "encoding": {"x2": {"field": "x2"}, "y2": {"field": "y2"}}},
      {"data": {"name": "d_genes"}, "mark": {"type": "rect"}, "encoding": {"x2": {"field": "x2"}, "y2": {"field": "y2"},
        "fill": {"field": "corr", "type": "quantitative", "scale": {"domain": [-0.5, 0, 0.5], "range": ["#47a99b", "#f6f6f6", "#d4a550"], "interpolate": "rgb"}, "legend": null}}},
      {"data": {"name": "d_legend"}, "mark": {"type": "rect"}, "encoding": {"x2": {"field": "x2"}, "y2": {"field": "y2"},
        "fill": {"field": "corr", "type": "quantitative", "scale": {"domain": [-0.5, 0, 0.5], "range": ["#47a99b", "#f6f6f6", "#d4a550"], "interpolate": "rgb"}, "legend": null}}},
      {"data": {"name": "d_self"}, "mark": {"type": "rect", "fill": "#8a8a8a"}, "encoding": {"x2": {"field": "x2"}, "y2": {"field": "y2"}}},
      {"data": {"name": "d_text"}, "transform": [{"filter": "datum.s == 'il'"}], "mark": {"type": "text", "fontStyle": "italic", "fontSize": 12, "align": "left"}, "encoding": {"text": {"field": "label"}}},
      {"data": {"name": "d_text"}, "transform": [{"filter": "datum.s == 'ic'"}], "mark": {"type": "text", "fontStyle": "italic", "fontSize": 12, "align": "center"}, "encoding": {"text": {"field": "label"}}},
      {"data": {"name": "d_text"}, "transform": [{"filter": "datum.s == 'nc'"}], "mark": {"type": "text", "fontSize": 12, "align": "center"}, "encoding": {"text": {"field": "label"}}},
      {"data": {"name": "d_text"}, "transform": [{"filter": "datum.s == 'nl'"}], "mark": {"type": "text", "fontSize": 12, "align": "left"}, "encoding": {"text": {"field": "label"}}},
      {"data": {"name": "d_text"}, "transform": [{"filter": "datum.s == 'bl'"}], "mark": {"type": "text", "fontSize": 12, "fontWeight": "bold", "align": "left", "fill": "#222222"}, "encoding": {"text": {"field": "label"}}},
      {"data": {"name": "d_text"}, "transform": [{"filter": "datum.s == 'bil'"}], "mark": {"type": "text", "fontSize": 12, "fontWeight": "bold", "fontStyle": "italic", "align": "left", "fill": "#222222"}, "encoding": {"text": {"field": "label"}}},
      {"data": {"name": "d_text"}, "transform": [{"filter": "datum.s == 'letter'"}], "mark": {"type": "text", "fontSize": 16, "fontWeight": "bold", "align": "left", "fill": "#111111"}, "encoding": {"text": {"field": "label"}}}
    ]
  }
],
"resolve": {"scale": {"x": "independent", "y": "independent", "color": "independent", "fill": "independent", "stroke": "independent"}, "axis": {"x": "independent", "y": "independent"}}
}
